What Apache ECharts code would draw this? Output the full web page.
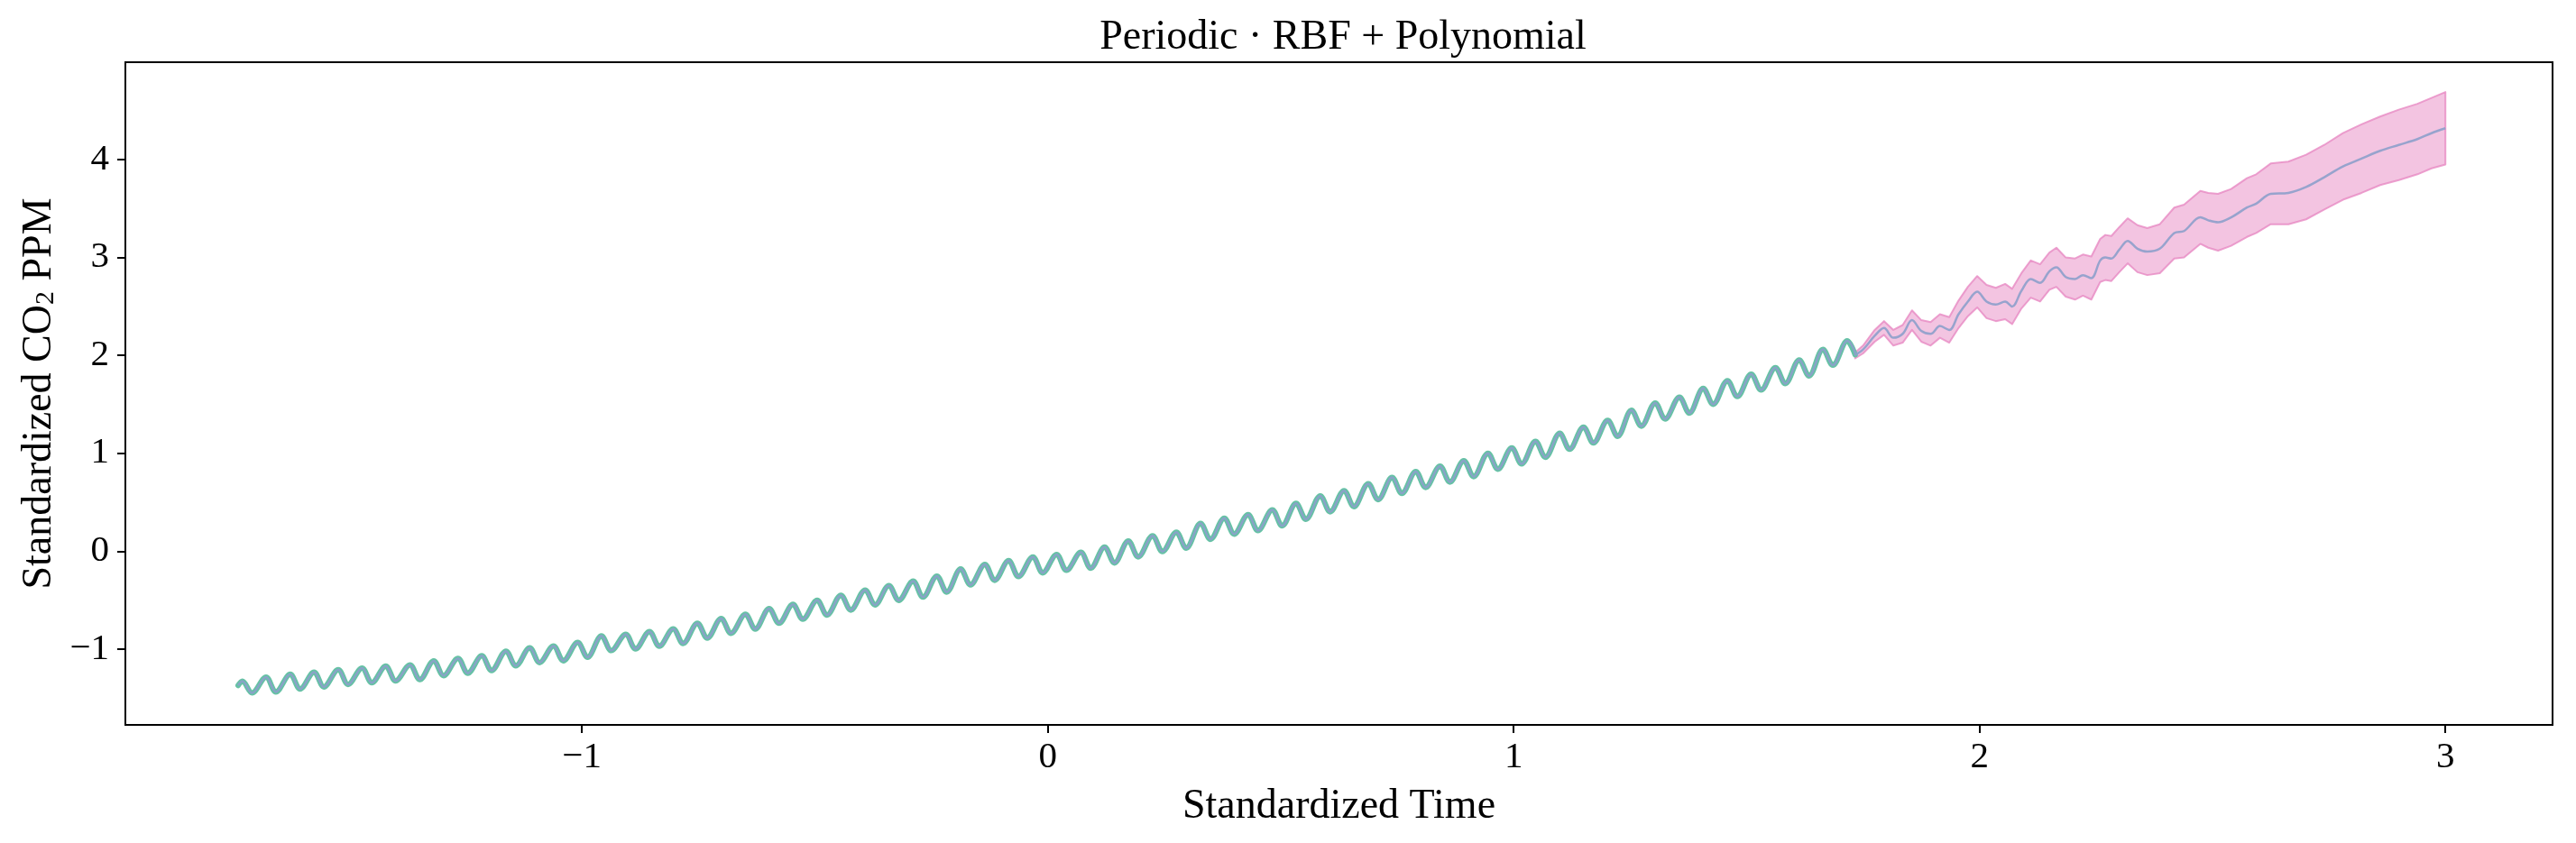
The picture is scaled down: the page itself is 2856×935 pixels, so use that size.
<!DOCTYPE html>
<html><head><meta charset="utf-8">
<script src="https://cdn.jsdelivr.net/npm/echarts@6/dist/echarts.min.js"></script>
<style>html,body{margin:0;padding:0;background:#fff}#c{width:2856px;height:935px}</style>
</head><body><div id="c"></div>
<script>
// Observed (standardized) data: start, then yearly peak / trough pairs, then end point
const obsX = [-1.738,
-1.729,-1.708,-1.678,-1.657,-1.626,-1.605,-1.575,-1.554,-1.523,-1.502,-1.472,-1.451,-1.421,-1.400,-1.369,-1.348,
-1.318,-1.297,-1.266,-1.245,-1.215,-1.194,-1.163,-1.142,-1.112,-1.091,-1.061,-1.040,-1.009,-0.988,-0.958,-0.937,
-0.906,-0.885,-0.855,-0.834,-0.804,-0.783,-0.752,-0.731,-0.701,-0.680,-0.649,-0.628,-0.598,-0.577,-0.547,-0.526,
-0.495,-0.474,-0.444,-0.423,-0.392,-0.371,-0.341,-0.320,-0.289,-0.268,-0.238,-0.217,-0.187,-0.166,-0.135,-0.114,
-0.084,-0.063,-0.032,-0.011,0.019,0.040,0.071,0.092,0.122,0.143,0.173,0.194,0.225,0.246,0.276,0.297,
0.328,0.349,0.379,0.400,0.430,0.451,0.482,0.503,0.533,0.554,0.585,0.606,0.636,0.657,0.688,0.709,
0.739,0.760,0.790,0.811,0.842,0.863,0.893,0.914,0.945,0.966,0.996,1.017,1.047,1.068,1.099,1.120,
1.150,1.171,1.202,1.223,1.253,1.274,1.304,1.325,1.356,1.377,1.407,1.428,1.459,1.480,1.510,1.531,
1.562,1.583,1.613,1.634,1.664,1.685,1.716,1.733];
const obsY = [-1.372,
-1.329,-1.448,-1.287,-1.438,-1.258,-1.409,-1.236,-1.387,-1.211,-1.362,-1.194,-1.345,-1.175,-1.326,-1.162,-1.313,
-1.121,-1.272,-1.096,-1.247,-1.069,-1.220,-1.021,-1.172,-0.988,-1.139,-0.969,-1.120,-0.933,-1.084,-0.865,-1.016,
-0.849,-1.000,-0.821,-0.972,-0.793,-0.944,-0.737,-0.888,-0.689,-0.840,-0.645,-0.796,-0.586,-0.737,-0.544,-0.695,
-0.502,-0.653,-0.451,-0.602,-0.398,-0.549,-0.352,-0.503,-0.307,-0.470,-0.255,-0.418,-0.182,-0.345,-0.135,-0.298,
-0.097,-0.260,-0.059,-0.222,-0.033,-0.196,-0.012,-0.175,0.042,-0.121,0.104,-0.059,0.158,-0.005,0.193,0.030,
0.284,0.121,0.337,0.174,0.373,0.210,0.422,0.259,0.488,0.325,0.565,0.402,0.618,0.455,0.689,0.526,
0.753,0.590,0.813,0.650,0.869,0.706,0.924,0.761,1.000,0.837,1.054,0.891,1.122,0.959,1.204,1.041,
1.268,1.105,1.336,1.173,1.440,1.277,1.513,1.350,1.573,1.410,1.663,1.500,1.742,1.579,1.809,1.646,
1.875,1.712,1.953,1.790,2.062,1.899,2.148,2.006];

// Prediction (extrapolation) region
const predX = [1.733,1.750,1.775,1.795,1.815,1.835,1.855,1.875,1.895,1.915,1.935,1.955,1.975,1.995,2.015,
2.035,2.055,2.070,2.090,2.110,2.130,2.150,2.165,2.185,2.205,2.222,2.240,2.259,2.270,2.283,2.300,2.318,2.339,
2.360,2.387,2.418,2.439,2.474,2.491,2.512,2.540,2.574,2.594,2.625,2.663,2.701,2.740,2.780,2.820,2.860,2.900,
2.940,2.970,3.000];
const predMean = [2.00,2.06,2.20,2.28,2.18,2.22,2.36,2.25,2.22,2.30,2.26,2.42,2.55,2.65,2.55,
2.52,2.55,2.50,2.66,2.78,2.74,2.86,2.90,2.80,2.78,2.82,2.79,2.97,3.00,2.99,3.08,3.17,3.09,
3.06,3.09,3.25,3.27,3.41,3.38,3.36,3.41,3.51,3.55,3.65,3.66,3.72,3.82,3.93,4.01,4.09,4.15,
4.21,4.27,4.32];
const predUpper = [2.03,2.10,2.26,2.35,2.26,2.31,2.46,2.36,2.34,2.42,2.39,2.56,2.70,2.81,2.72,
2.69,2.73,2.68,2.84,2.97,2.93,3.05,3.10,3.00,2.99,3.03,3.01,3.19,3.23,3.22,3.31,3.40,3.33,
3.30,3.34,3.51,3.54,3.68,3.66,3.65,3.70,3.81,3.85,3.96,3.98,4.05,4.15,4.27,4.36,4.44,4.51,
4.57,4.63,4.69];
const predLower = [1.97,2.02,2.14,2.21,2.10,2.13,2.26,2.14,2.10,2.18,2.13,2.28,2.40,2.49,2.38,
2.35,2.37,2.32,2.48,2.59,2.55,2.67,2.70,2.60,2.57,2.61,2.57,2.75,2.77,2.76,2.85,2.94,2.85,
2.82,2.84,2.99,3.00,3.14,3.10,3.07,3.12,3.21,3.25,3.34,3.34,3.39,3.49,3.59,3.66,3.74,3.79,
3.85,3.91,3.95];

const xTicks = [-1, 0, 1, 2, 3];
const yTicks = [-1, 0, 1, 2, 3, 4];

const obsData = obsX.map((x, i) => [x, obsY[i]]);
const meanData = obsData.concat(predX.map((x, i) => [x, predMean[i]]));
const bandData = predX.map((x, i) => [x, predLower[i], predUpper[i]]);

const FONT = 'Liberation Serif';
const fmt = v => String(v).replace('-', '\u2212');

const chart = echarts.init(document.getElementById('c'), null, {renderer: 'canvas'});
chart.setOption({
  animation: false,
  backgroundColor: '#ffffff',
  title: {
    text: 'Periodic \u00b7 RBF + Polynomial',
    left: 1484, top: 14, textAlign: 'center',
    textStyle: {fontFamily: FONT, fontSize: 46, fontWeight: 'normal', color: '#000'}
  },
  grid: {left: 139, right: 26, top: 69, bottom: 131, show: true, borderColor: '#000', borderWidth: 2, backgroundColor: 'transparent'},
  xAxis: {
    type: 'value', min: -1.98, max: 3.23,
    name: 'Standardized Time', nameLocation: 'middle', nameGap: 68,
    nameTextStyle: {fontFamily: FONT, fontSize: 46, color: '#000'},
    axisLine: {show: true, onZero: false, lineStyle: {color: '#000', width: 2}},
    axisTick: {show: true, inside: false, length: 9, lineStyle: {color: '#000', width: 2}, customValues: xTicks},
    axisLabel: {fontFamily: FONT, fontSize: 41, color: '#000', margin: 16, formatter: fmt, customValues: xTicks},
    splitLine: {show: false}
  },
  yAxis: {
    type: 'value', min: -1.775, max: 4.995,
    name: 'Standardized CO{sub|2} PPM', nameLocation: 'middle', nameGap: 70,
    nameTextStyle: {fontFamily: FONT, fontSize: 46, color: '#000',
      rich: {sub: {fontFamily: FONT, fontSize: 30, color: '#000', verticalAlign: 'bottom', padding: [14, 0, 0, 0]}}},
    axisLine: {show: true, onZero: false, lineStyle: {color: '#000', width: 2}},
    axisTick: {show: true, inside: false, length: 9, lineStyle: {color: '#000', width: 2}, customValues: yTicks},
    axisLabel: {fontFamily: FONT, fontSize: 41, color: '#000', margin: 18, formatter: fmt, customValues: yTicks},
    splitLine: {show: false}
  },
  series: [
    {type: 'custom', name: 'band', data: bandData, z: 1, silent: true,
     encode: {x: 0, y: [1, 2]},
     renderItem: function (params, api) {
       if (params.dataIndex !== 0) return null;
       const top = bandData.map(d => api.coord([d[0], d[2]]));
       const bot = bandData.map(d => api.coord([d[0], d[1]])).reverse();
       return {
         type: 'polygon',
         shape: {points: top.concat(bot)},
         style: {fill: 'rgba(231,138,195,0.5)', stroke: 'rgba(231,138,195,0.8)', lineWidth: 2, lineJoin: 'round'}
       };
     }},
    {type: 'line', name: 'observed', data: obsData, showSymbol: false, symbol: 'none', smooth: 0.35,
     lineStyle: {color: '#66c2a5', width: 6, join: 'round', cap: 'round'}, z: 3, silent: true},
    {type: 'line', name: 'mean', data: meanData, showSymbol: false, symbol: 'none', smooth: 0.35,
     lineStyle: {color: '#8da0cb', width: 2.5, opacity: 0.9}, z: 4, silent: true}
  ]
});
</script>
</body></html>
